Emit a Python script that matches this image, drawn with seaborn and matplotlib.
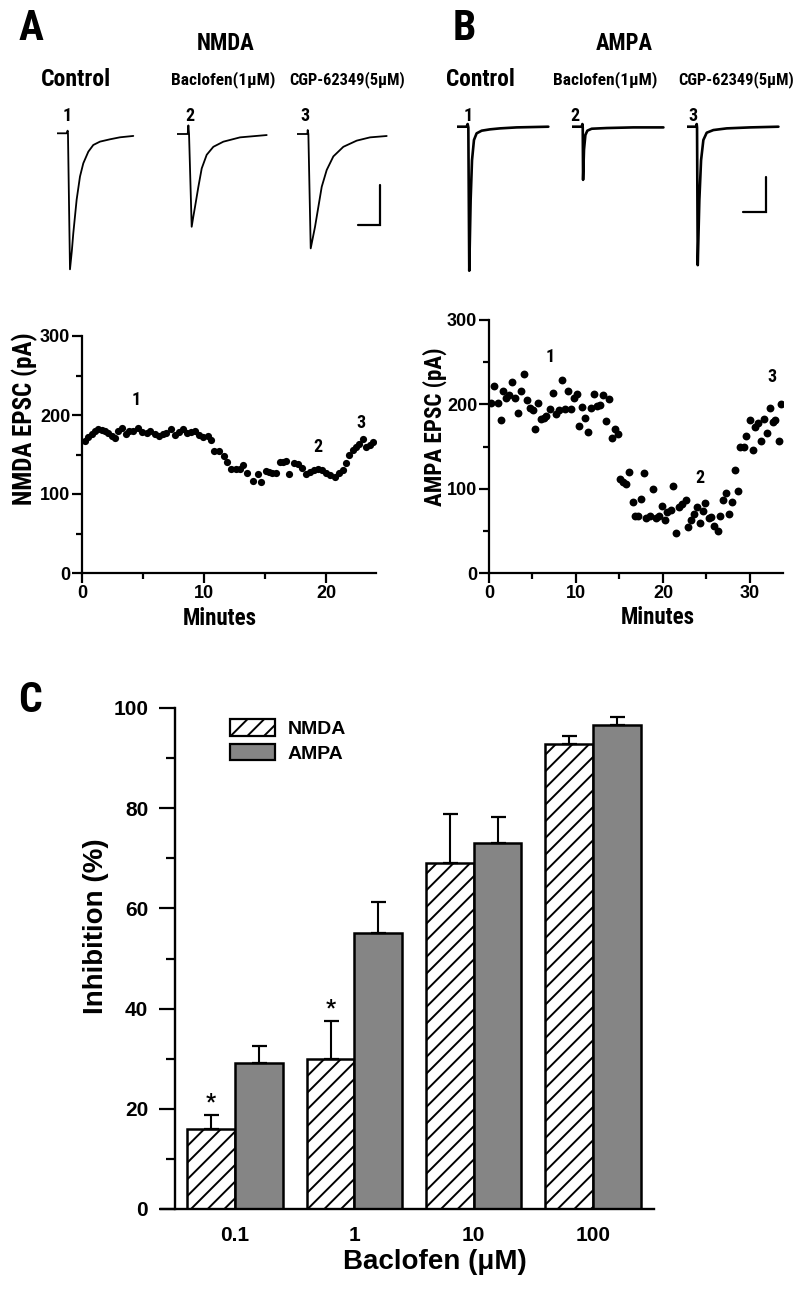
import numpy as np
import pandas as pd
import matplotlib
matplotlib.use("Agg")
import matplotlib.pyplot as plt
from matplotlib import font_manager as fm
import seaborn as sns
from matplotlib.patches import Patch

# ---------------- DATA ----------------
# Panel A traces (time ms, current pA)
nmda_ctrl_t = [0, 21.2, 23.5, 24.2, 28.8, 33.0, 36.3, 43.9, 51.5, 59, 70.4, 81.7, 96.9, 119.6, 142.3, 172.5]
nmda_ctrl_i = [0, 0, 3.3, 0, -170, -147, -125, -83, -54, -37.5, -23, -14.6, -10.4, -7.5, -5, -3.3]
nmda_bac_t = [0, 25, 26.5, 28, 34, 37.5, 41.6, 49.2, 56.8, 68.1, 83.2, 105.9, 143.8, 204.3]
nmda_bac_i = [0, 0, 10.8, 0, -116, -104, -91, -66, -43, -26, -16, -9.6, -4.2, -1.3]
nmda_cgp_t = [0, 24.2, 25, 26.5, 31.8, 36.5, 41.6, 49.2, 56.8, 68.1, 83.2, 105.9, 136.2, 166.5, 204.3]
nmda_cgp_i = [0, 0, 5, 0, -143, -130, -116, -91, -66, -45, -28, -16, -8.3, -4.2, -2.5]
nmda_scalebar = [50, 50]   # ms, pA

# Panel B traces
ampa_ctrl_t = [0, 8.1, 9.0, 9.6, 10.4, 11.6, 12.8, 14.5, 16.8, 21.2, 28.4, 37.1, 51.6, 79.2]
ampa_ctrl_i = [0, 0, 3.8, -1, -206, -105, -48, -19, -9.5, -5.7, -3.8, -2.4, -1, 0]
ampa_bac_t = [0, 8.7, 9.3, 9.6, 9.9, 10.7, 11.9, 13.6, 17.4, 30.5, 53.7, 79.8]
ampa_bac_i = [0, 0, 3.8, -1, -76, -33, -12, -5.7, -2.9, -1.9, -1, -1]
ampa_cgp_t = [0, 8.1, 8.7, 9.0, 9.6, 11.0, 12.5, 14.5, 17.4, 23.2, 34.8, 55.1, 79.8]
ampa_cgp_i = [0, 0, 3.8, -1, -198, -105, -48, -19, -8.6, -4.8, -2.4, -1, 0]
ampa_scalebar = [20, 50]   # ms, pA

# Time courses
nmda_t = [0.25, 0.52, 0.79, 1.07, 1.34, 1.61, 1.89, 2.16, 2.43, 2.70, 2.98, 3.30, 3.60, 3.85, 4.20,
          4.60, 4.95, 5.30, 5.60, 5.96, 6.30, 6.60, 6.90, 7.30, 7.60, 7.95, 8.30, 8.60, 8.95, 9.30,
          9.60, 9.90, 10.30, 10.60, 10.85, 11.20, 11.60, 11.90, 12.20, 12.60, 12.95, 13.20, 13.55,
          14.00, 14.40, 14.70, 15.07, 15.30, 15.60, 15.90, 16.20, 16.45, 16.70, 16.95, 17.35, 17.70,
          18.00, 18.40, 18.70, 19.00, 19.35, 19.65, 20.00, 20.30, 20.70, 21.10, 21.40, 21.60, 21.90,
          22.20, 22.50, 22.70, 23.00, 23.30, 23.60, 23.85]
nmda_v = [167, 172, 176, 180, 182, 181, 180, 177, 174, 171, 180, 183, 176, 180, 180, 183, 178, 177,
          180, 176, 174, 176, 177, 182, 175, 178, 182, 177, 178, 180, 175, 172, 173, 168, 155, 154,
          148, 141, 132, 132, 132, 137, 126, 116, 125, 115, 129, 128, 127, 126, 141, 141, 142, 125,
          139, 138, 133, 125, 128, 130, 132, 130, 127, 124, 122, 127, 130, 139, 150, 156, 160, 163,
          169, 160, 162, 166]

ampa_t = [0.2, 0.6, 1.0, 1.34, 1.65, 1.95, 2.34, 2.64, 3.0, 3.33, 3.64, 4.0, 4.33, 4.7, 5.06, 5.33,
          5.63, 6.0, 6.3, 6.6, 7.05, 7.4, 7.7, 8.0, 8.43, 8.7, 9.04, 9.4, 9.77, 10.08, 10.4, 10.7,
          11.07, 11.4, 11.7, 12.07, 12.4, 12.76, 13.07, 13.4, 13.75, 14.1, 14.5, 14.87, 15.06, 15.36,
          15.8, 16.1, 16.5, 16.8, 17.1, 17.5, 17.8, 18.1, 18.5, 18.8, 19.2, 19.5, 19.85, 20.2, 20.5,
          20.9, 21.2, 21.5, 21.9, 22.2, 22.6, 22.9, 23.2, 23.6, 23.9, 24.25, 24.56, 24.87, 25.25,
          25.55, 25.9, 26.3, 26.6, 26.9, 27.3, 27.6, 27.9, 28.3, 28.66, 28.9, 29.3, 29.6, 29.96,
          30.3, 30.6, 30.9, 31.3, 31.6, 31.95, 32.3, 32.6, 32.9, 33.3, 33.56]
ampa_v = [201, 222, 201, 181, 216, 208, 211, 226, 207, 190, 216, 236, 205, 196, 193, 171, 201, 183,
          184, 186, 195, 213, 189, 193, 229, 194, 216, 194, 207, 212, 174, 197, 184, 167, 196, 212,
          198, 199, 211, 180, 206, 160, 171, 165, 112, 108, 105, 120, 84, 68, 67, 88, 118, 65, 67,
          100, 65, 67, 80, 63, 72, 75, 103, 48, 78, 82, 87, 55, 63, 70, 78, 59, 74, 83, 65, 66, 56,
          50, 67, 86, 95, 70, 84, 122, 97, 150, 150, 162, 181, 146, 173, 178, 156, 183, 166, 196,
          179, 181, 156, 200]

# Panel C
conc = ["0.1", "1", "10", "100"]
receptors = ["NMDA", "AMPA"]
nmda_mean = [16.0, 30.0, 69.0, 92.8]
nmda_sem = [2.8, 7.5, 9.8, 1.6]
ampa_mean = [29.2, 55.1, 73.0, 96.6]
ampa_sem = [3.3, 6.2, 5.2, 1.6]
nmda_sig = ["*", "*", "", ""]

# ---------------- STYLE ----------------
sns.set_style("ticks", {"axes.edgecolor": "black", "xtick.color": "black", "ytick.color": "black",
                        "text.color": "black", "axes.labelcolor": "black"})
REG = ["Liberation Sans", "DejaVu Sans"]


def first_available(names):
    for n in names:
        try:
            fm.findfont(fm.FontProperties(family=n, weight="bold"), fallback_to_default=False)
            return n
        except Exception:
            pass
    return "Liberation Sans"


NARROW = [first_available(["Liberation Sans Narrow", "Roboto Condensed", "Open Sans Condensed",
                           "Arial Narrow", "Liberation Sans"]), "Liberation Sans", "DejaVu Sans"]
plt.rcParams["font.family"] = REG
plt.rcParams["font.weight"] = "bold"
plt.rcParams["axes.labelweight"] = "bold"
plt.rcParams["hatch.linewidth"] = 1.4

W, H = 800, 1293
fig = plt.figure(figsize=(8, 12.93), dpi=100, facecolor="white")
renderer = fig.canvas.get_renderer()


def rect(l, t, r, b):
    return [l / W, 1 - b / H, (r - l) / W, (b - t) / H]


def fit(t, target, vertical=False):
    bb = t.get_window_extent(renderer)
    w = bb.height if vertical else bb.width
    if w > target:
        t.set_fontsize(t.get_fontsize() * target / w)
    return t


def ftext(x, y, s, size, target=None, family=NARROW, **kw):
    t = fig.text(x / W, 1 - y / H, s, fontsize=size, family=family, fontweight="bold",
                 ha="center", va="center", **kw)
    if target:
        fit(t, target)
    return t


# ---------------- TRACES ----------------
def trace(left_px, base_px, ms_px, pa_px, t, i, lw):
    top, bottom, width = 108, 290, 100
    ax = fig.add_axes(rect(left_px, top, left_px + width, bottom))
    sns.lineplot(x=t, y=i, ax=ax, color="black", lw=lw, sort=False, estimator=None)
    ax.set_xlim(0, width * ms_px)
    ax.set_ylim(-(bottom - base_px) * pa_px, (base_px - top) * pa_px)
    ax.axis("off")
    ax.patch.set_alpha(0)


def scalebar(cx, cy, ms_px, pa_px, bar):
    l, r, t, b = cx - 40, cx + 10, cy - 50, cy + 10
    ax = fig.add_axes(rect(l, t, r, b))
    ax.plot([0, bar[0], bar[0]], [0, 0, bar[1]], color="black", lw=1.6, solid_joinstyle="miter")
    ax.set_xlim((l - cx) * ms_px + bar[0], (r - cx) * ms_px + bar[0])
    ax.set_ylim(-(b - cy) * pa_px, (cy - t) * pa_px)
    ax.axis("off")
    ax.patch.set_alpha(0)


NMDA_MS, NMDA_PA = 2.27, 1.25
AMPA_MS, AMPA_PA = 0.87, 1.43
trace(57.3, 133.3, NMDA_MS, NMDA_PA, nmda_ctrl_t, nmda_ctrl_i, 1.3)
trace(176.7, 134.0, NMDA_MS, NMDA_PA, nmda_bac_t, nmda_bac_i, 1.3)
trace(296.7, 134.0, NMDA_MS, NMDA_PA, nmda_cgp_t, nmda_cgp_i, 1.3)
scalebar(380, 225, NMDA_MS, NMDA_PA, nmda_scalebar)
trace(457.3, 126.7, AMPA_MS, AMPA_PA, ampa_ctrl_t, ampa_ctrl_i, 1.9)
trace(571.7, 126.7, AMPA_MS, AMPA_PA, ampa_bac_t, ampa_bac_i, 1.9)
trace(686.7, 126.7, AMPA_MS, AMPA_PA, ampa_cgp_t, ampa_cgp_i, 1.9)
scalebar(766, 212, AMPA_MS, AMPA_PA, ampa_scalebar)

# headings
ftext(31, 28, "A", 30, 28)
ftext(464, 28, "B", 30, 24)
ftext(226, 43, "NMDA", 19, 58)
ftext(624, 43, "AMPA", 19, 57)
for (x, s, w) in [(76, "Control", 70), (223, "Baclofen(1\u03bcM)", 104), (347, "CGP-62349(5\u03bcM)", 116),
                  (480, "Control", 69), (605, "Baclofen(1\u03bcM)", 104), (736, "CGP-62349(5\u03bcM)", 116)]:
    ftext(x, 80, s, 22 if s == "Control" else 18, w)
for (x, s) in [(67, "1"), (190, "2"), (305, "3"), (468, "1"), (575, "2"), (693, "3")]:
    ftext(x, 116, s, 13)


# ---------------- TIME COURSES ----------------
def scatter_panel(box, t, v, xmax, xmaj, xmin, ylabel, ylab_xy, xlab_xy, ylab_w, marks, s):
    ax = fig.add_axes(rect(*box))
    sns.scatterplot(x=t, y=v, ax=ax, color="black", s=s, linewidth=0)
    ax.set_xlim(0, xmax)
    ax.set_ylim(0, 300)
    ax.set_xticks(xmaj)
    ax.set_xticks(xmin, minor=True)
    ax.set_yticks([0, 100, 200, 300])
    ax.set_yticks([50, 150, 250], minor=True)
    sns.despine(ax=ax)
    for sp in ["left", "bottom"]:
        ax.spines[sp].set_linewidth(1.6)
    ax.tick_params(which="major", length=7.5, width=1.6, labelsize=13, pad=1)
    ax.tick_params(which="minor", length=4, width=1.6)
    ax.set_ylabel(ylabel, fontsize=21, family=NARROW, fontweight="bold", va="center")
    ax.yaxis.set_label_coords(*ylab_xy)
    fit(ax.yaxis.label, ylab_w, vertical=True)
    ax.set_xlabel("Minutes", fontsize=21, family=NARROW, fontweight="bold", va="center")
    ax.xaxis.set_label_coords(*xlab_xy)
    fit(ax.xaxis.label, 74)
    for (x, y, m) in marks:
        ax.text(x, y, m, fontsize=13, family=NARROW, fontweight="bold", ha="center", va="center")
    return ax


scatter_panel((82, 336, 376, 573), nmda_t, nmda_v, 24.1, [0, 10, 20], [5, 15],
              "NMDA EPSC (pA)", (-0.194, 0.652), (0.469, -0.19), 172,
              [(4.4, 219, "1"), (19.3, 159, "2"), (22.9, 190, "3")], 27)
scatter_panel((489, 320, 783, 573), ampa_t, ampa_v, 33.8, [0, 10, 20, 30], [5, 15, 25],
              "AMPA EPSC (pA)", (-0.184, 0.577), (0.575, -0.174), 158,
              [(7.0, 256, "1"), (24.25, 113, "2"), (32.5, 232, "3")], 32)

# ---------------- BAR CHART ----------------
ftext(30, 700, "C", 30, 25)
axC = fig.add_axes(rect(161, 708, 654, 1209))
df = pd.DataFrame({"conc": conc * 2,
                   "receptor": ["NMDA"] * len(conc) + ["AMPA"] * len(conc),
                   "value": nmda_mean + ampa_mean})
colors = {"NMDA": "white", "AMPA": "#858585"}
sns.barplot(data=df, x="conc", y="value", hue="receptor", order=conc, hue_order=receptors,
            palette=colors, saturation=1, edgecolor="black", linewidth=1.8, errorbar=None,
            legend=False, width=0.8, ax=axC)
for bar in axC.containers[0]:
    bar.set_hatch("//")
for cont, sem in zip(axC.containers, [nmda_sem, ampa_sem]):
    xs = [b.get_x() + b.get_width() / 2 for b in cont]
    ys = [b.get_height() for b in cont]
    axC.errorbar(xs, ys, yerr=[np.zeros(len(sem)), sem], fmt="none", ecolor="black",
                 elinewidth=1.5, capsize=5.4, capthick=1.6, zorder=3)
for b, sem, mark in zip(axC.containers[0], nmda_sem, nmda_sig):
    if mark:
        axC.annotate(mark, xy=(b.get_x() + b.get_width() / 2, b.get_height() + sem),
                     xytext=(0, 1), textcoords="offset points", ha="center", va="bottom",
                     fontsize=16, family=NARROW, fontweight="bold")
axC.set_xlim(-0.62, 3.51)
axC.set_ylim(0, 100)
axC.set_yticks([0, 20, 40, 60, 80, 100])
axC.set_yticks([10, 30, 50, 70, 90], minor=True)
sns.despine(ax=axC)
axC.spines["left"].set_position(("data", -0.5))
for sp in ["left", "bottom"]:
    axC.spines[sp].set_linewidth(1.7)
axC.tick_params(axis="y", which="major", length=11.5, width=1.6, labelsize=15, pad=8)
axC.tick_params(axis="y", which="minor", length=6.5, width=1.6)
axC.tick_params(axis="x", length=0, labelsize=15, pad=12)
axC.set_ylabel("Inhibition (%)", fontsize=20, fontweight="bold", va="center")
axC.yaxis.set_label_coords(-0.132, 0.565)
axC.set_xlabel("Baclofen (\u03bcM)", fontsize=20, fontweight="bold", va="center")
axC.xaxis.set_label_coords(0.556, -0.106)
handles = [Patch(facecolor=colors["NMDA"], edgecolor="black", hatch="//", lw=1.6),
           Patch(facecolor=colors["AMPA"], edgecolor="black", lw=1.6)]
axC.legend(handles, receptors, loc="upper left", bbox_to_anchor=(0.14, 0.978), frameon=False,
           handlelength=2.3, handleheight=0.93, handletextpad=0.67, labelspacing=0.3,
           borderpad=0, borderaxespad=0, prop={"size": 14, "weight": "bold", "family": REG})

fig.savefig("out.png", dpi=100, facecolor="white")
